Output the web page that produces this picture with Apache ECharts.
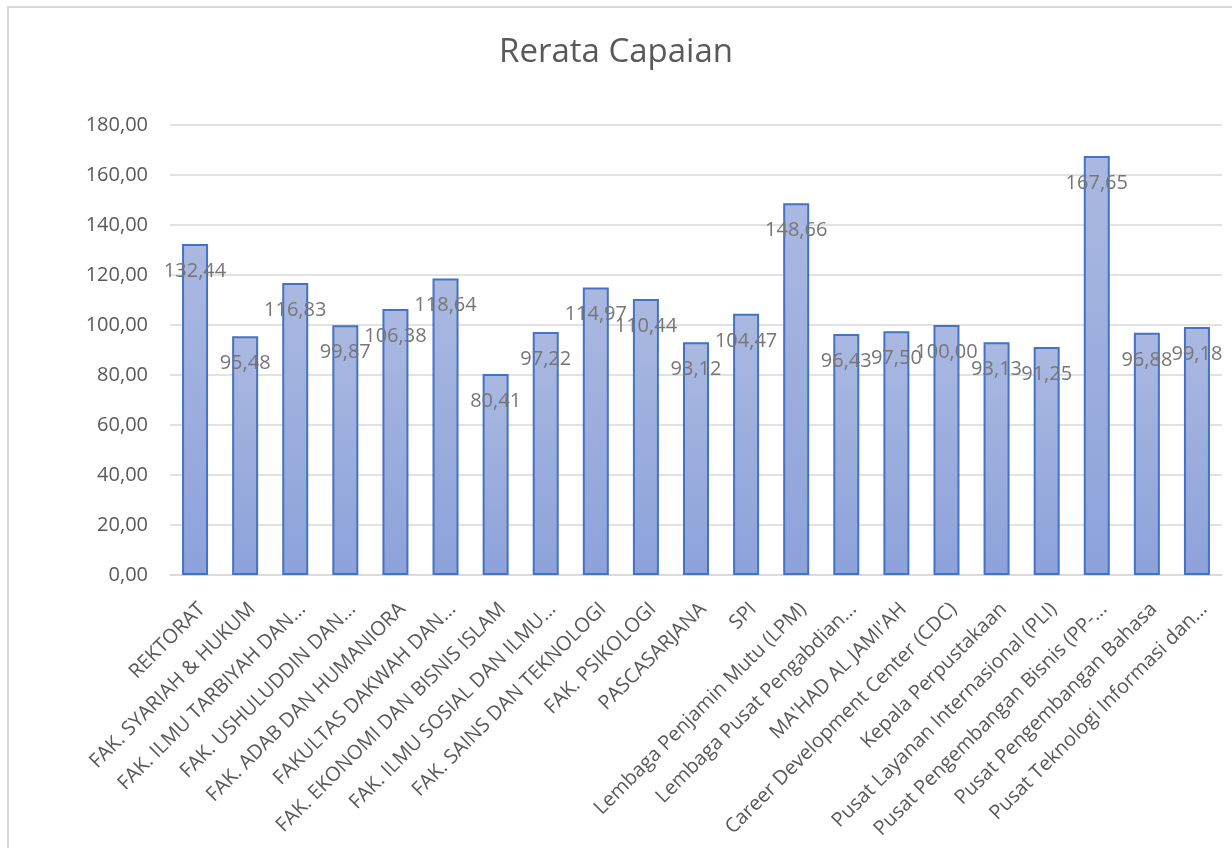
<!DOCTYPE html>
<html>
<head>
<meta charset="utf-8">
<title>Rerata Capaian</title>
<script src="https://cdn.jsdelivr.net/npm/echarts@6/dist/echarts.min.js"></script>
<style>
  html, body { margin: 0; padding: 0; background: #fff; }
  #frame {
    position: absolute; left: 7px; top: 6px;
    width: 1300px; height: 900px;
    border: 2px solid #d9d9d9;
  }
  #chart { position: absolute; left: 0; top: 0; width: 1232px; height: 848px; }
</style>
</head>
<body>
<div id="frame"></div>
<div id="chart"></div>
<script>
const units = [
  'REKTORAT',
  'FAK. SYARIAH & HUKUM',
  'FAK. ILMU TARBIYAH DAN...',
  'FAK. USHULUDDIN DAN...',
  'FAK. ADAB DAN HUMANIORA',
  'FAKULTAS DAKWAH DAN...',
  'FAK. EKONOMI DAN BISNIS ISLAM',
  'FAK. ILMU SOSIAL DAN ILMU...',
  'FAK. SAINS DAN TEKNOLOGI',
  'FAK. PSIKOLOGI',
  'PASCASARJANA',
  'SPI',
  'Lembaga Penjamin Mutu (LPM)',
  'Lembaga Pusat Pengabdian...',
  "MA'HAD AL JAMI'AH",
  'Career Development Center (CDC)',
  'Kepala Perpustakaan',
  'Pusat Layanan Internasional (PLI)',
  'Pusat Pengembangan Bisnis (PP-...',
  'Pusat Pengembangan Bahasa',
  'Pusat Teknologi Informasi dan...'
]

const rerata = [
  132.44, 95.48, 116.83, 99.87, 106.38, 118.64, 80.41, 97.22, 114.97, 110.44,
  93.12, 104.47, 148.66, 96.43, 97.50, 100.00, 93.13, 91.25, 167.65, 96.88, 99.18
]

const yMin = 0
const yMax = 180
const yStep = 20

// Excel style: two decimals, comma separator
const fmt = v => Number(v).toFixed(2).replace('.', ',')

const chart = echarts.init(document.getElementById('chart'))

chart.setOption({
  animation: false,
  textStyle: { fontFamily: '"Open Sans", sans-serif' },
  title: {
    text: 'Rerata Capaian',
    left: 'center',
    top: 31,
    textStyle: { fontSize: 33, fontWeight: 'normal', color: '#595959' }
  },
  grid: {
    top: 125,
    left: 170,
    right: 10,
    bottom: 273
  },
  xAxis: {
    type: 'category',
    data: units,
    axisLine: { lineStyle: { color: '#d9d9d9', width: 1.5 } },
    axisTick: { show: false },
    axisLabel: {
      interval: 0,
      rotate: 45,
      margin: 24,
      fontSize: 20,
      verticalAlign: 'top',
      color: '#595959'
    }
  },
  yAxis: {
    type: 'value',
    min: yMin,
    max: yMax,
    interval: yStep,
    axisLine: { show: false },
    axisTick: { show: false },
    splitLine: { lineStyle: { color: '#d9d9d9', width: 1.5 } },
    axisLabel: {
      margin: 22,
      fontSize: 20,
      color: '#595959',
      formatter: fmt
    }
  },
  series: [{
    name: 'Rerata Capaian',
    type: 'bar',
    data: rerata,
    barWidth: 26,
    itemStyle: {
      color: new echarts.graphic.LinearGradient(0, 0, 0, 1, [
        { offset: 0, color: '#abb9e1' },
        { offset: 1, color: '#8ca2da' }
      ]),
      borderColor: '#4472c4',
      borderWidth: 2
    },
    label: {
      show: true,
      position: 'insideTop',
      distance: 17,
      fontSize: 20,
      color: '#767676',
      formatter: p => fmt(p.value)
    }
  }]
})
</script>
</body>
</html>
